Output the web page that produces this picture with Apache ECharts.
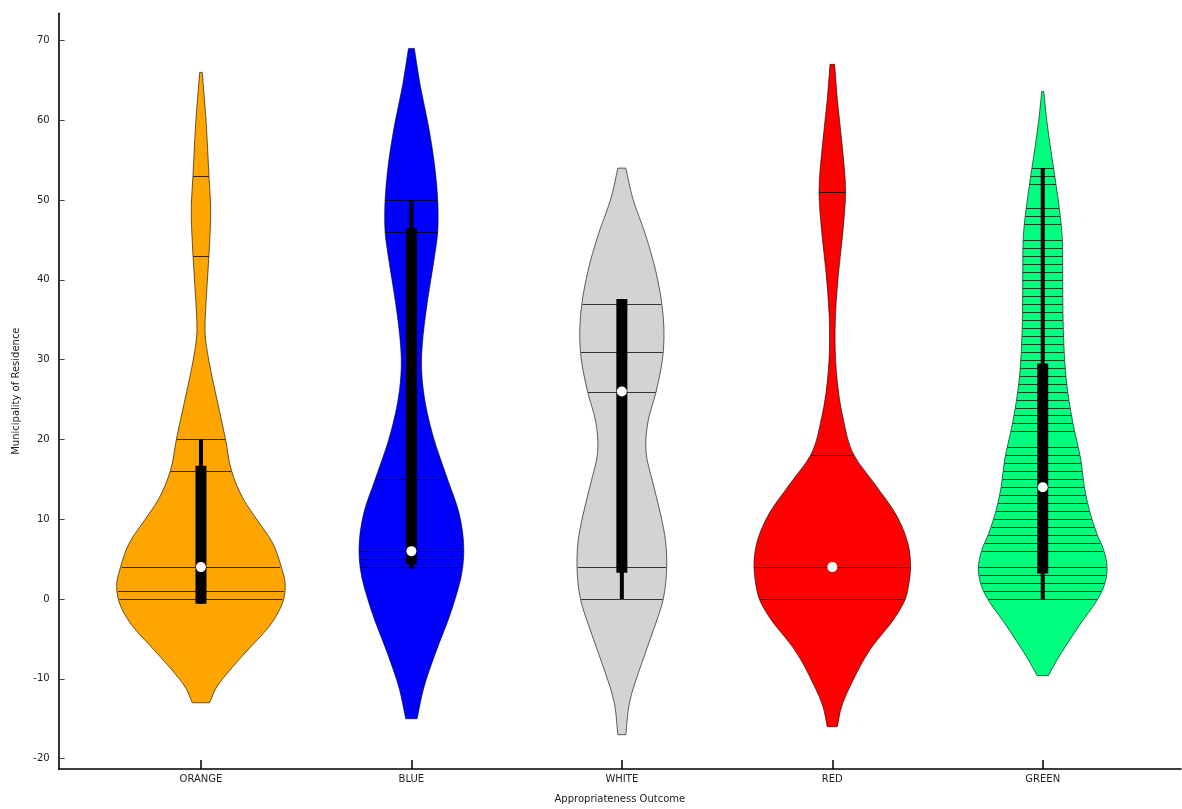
<!DOCTYPE html>
<html>
<head>
<meta charset="utf-8">
<script src="https://cdn.jsdelivr.net/npm/echarts@6/dist/echarts.min.js"></script>
<style>
html,body{margin:0;padding:0;background:#fff;}
#chart{width:1182px;height:809px;}
</style>
</head>
<body>
<div id="chart"></div>
<script>
// ---- data ----
const categories = ['ORANGE', 'BLUE', 'WHITE', 'RED', 'GREEN'];
const yTicks = [-20, -10, 0, 10, 20, 30, 40, 50, 60, 70];

// violin outlines: [value, half-width in category units]
const orangeShape = [[66,0.006],[59.7,0.025],[53,0.038],[49.2,0.046],[43.1,0.038],[36.1,0.022],[33.5,0.019],[29.8,0.038],[25.6,0.071],[20,0.117],[16.1,0.145],[12.5,0.202],[9.8,0.270],[7.2,0.337],[4,0.382],[2,0.400],[0.1,0.394],[-3.3,0.328],[-5.9,0.240],[-8.5,0.151],[-11.2,0.071],[-13,0.041]];
const blueShape = [[69,0.014],[64.5,0.041],[59,0.083],[53.5,0.114],[50,0.125],[48.1,0.127],[46,0.125],[42.6,0.108],[37.1,0.075],[31.6,0.051],[30,0.048],[26.1,0.057],[20.6,0.101],[15,0.172],[10.8,0.226],[6,0.249],[4,0.244],[-1.3,0.192],[-6.8,0.114],[-11.2,0.058],[-15,0.027]];
const whiteShape = [[54,0.019],[50.3,0.051],[45.6,0.113],[41,0.162],[37,0.190],[33.9,0.200],[31,0.197],[25.9,0.162],[22.2,0.124],[18.4,0.115],[14.7,0.146],[10.4,0.186],[7.2,0.208],[4,0.213],[-0.1,0.196],[-3.6,0.154],[-8.3,0.091],[-13,0.036],[-17,0.019]];
const redShape = [[67,0.011],[62.6,0.024],[57.1,0.046],[51,0.063],[46.2,0.051],[40.7,0.029],[33.6,0.013],[28.6,0.019],[22.7,0.051],[18,0.104],[14.4,0.202],[10.2,0.311],[6.9,0.360],[4,0.372],[1.9,0.364],[0,0.347],[-2.2,0.301],[-6.4,0.178],[-10.6,0.091],[-13.5,0.044],[-16,0.024]];
const greenShape = [[63.6,0.005],[60.2,0.018],[55.3,0.044],[50.5,0.071],[45.6,0.092],[40.7,0.095],[35.9,0.096],[31,0.102],[27.7,0.111],[22.1,0.143],[17.3,0.182],[14,0.198],[11.1,0.222],[8.2,0.257],[6.2,0.289],[3.7,0.306],[1.2,0.285],[-0.4,0.252],[-3,0.182],[-5.5,0.119],[-7.9,0.062],[-9.6,0.027]];

// individual observations drawn as sticks
const orangePoints = [0, 1, 4, 16, 20, 43, 53];
const bluePoints = [4, 5, 6, 15, 46, 50];
const whitePoints = [0, 4, 26, 31, 37];
const redPoints = [0, 4, 18, 51];
const greenPoints = [0,1,2,3,4,6,7,8,9,10,11,12,13,14,15,16,17,18,19,21,22,23,24,25,26,27,28,29,30,31,32,33,34,35,36,37,38,39,40,41,42,43,44,45,47,48,49,52,53,54];

// box (q1, q3), whisker (low, high), median
const boxes = [[-0.6, 16.7], [4.35, 46.5], [3.3, 37.6], null, [3.2, 29.5]];
const whiskers = [[-0.6, 20], [3.8, 50], [0, 37.6], null, [0, 54]];
const medians = [4, 6, 26, 4, 14];

// ---- styling ----
const fills = ['#FFA500', '#0000FF', '#D3D3D3', '#FF0000', '#00FF7F'];
const shapes = [orangeShape, blueShape, whiteShape, redShape, greenShape];
const points = [orangePoints, bluePoints, whitePoints, redPoints, greenPoints];
const FONT = 'DejaVu Sans';

// three-point derivative of half-width w.r.t. value (shape ordered by descending value)
function slopes(shape) {
  const n = shape.length, m = new Array(n);
  for (let i = 0; i < n; i++) {
    if (i === 0) m[i] = (shape[1][1] - shape[0][1]) / (shape[1][0] - shape[0][0]);
    else if (i === n - 1) m[i] = (shape[i][1] - shape[i - 1][1]) / (shape[i][0] - shape[i - 1][0]);
    else {
      const h0 = shape[i][0] - shape[i - 1][0], h1 = shape[i + 1][0] - shape[i][0];
      const d0 = (shape[i][1] - shape[i - 1][1]) / h0, d1 = (shape[i + 1][1] - shape[i][1]) / h1;
      m[i] = (d0 * h1 + d1 * h0) / (h0 + h1);
    }
  }
  return m;
}

function hermite(shape, m, v) {
  for (let i = 0; i < shape.length - 1; i++) {
    const a = shape[i], b = shape[i + 1];
    if (v <= a[0] && v >= b[0]) {
      const h = b[0] - a[0], t = (v - a[0]) / h;
      const t2 = t * t, t3 = t2 * t;
      return (2 * t3 - 3 * t2 + 1) * a[1] + (t3 - 2 * t2 + t) * h * m[i] + (-2 * t3 + 3 * t2) * b[1] + (t3 - t2) * h * m[i + 1];
    }
  }
  return 0;
}

// bezier segments along one side; sign = +1 right, -1 left
function sidePath(shape, m, idx, sign, api, reverse) {
  const segs = [];
  for (let i = 0; i < shape.length - 1; i++) {
    const a = shape[i], b = shape[i + 1], h = b[0] - a[0];
    const c1 = [a[0] + h / 3, a[1] + m[i] * h / 3];
    const c2 = [b[0] - h / 3, b[1] - m[i + 1] * h / 3];
    const P = p => api.coord([idx + sign * p[1], p[0]]);
    segs.push([P(a), P(c1), P(c2), P(b)]);
  }
  let d = '';
  const f = p => p[0].toFixed(2) + ',' + p[1].toFixed(2);
  if (!reverse) segs.forEach(s => { d += ' C' + f(s[1]) + ' ' + f(s[2]) + ' ' + f(s[3]); });
  else segs.slice().reverse().forEach(s => { d += ' C' + f(s[2]) + ' ' + f(s[1]) + ' ' + f(s[0]); });
  return d;
}

function renderItem(params, api) {
  const idx = params.dataIndex;
  const shape = shapes[idx];
  const m = slopes(shape);
  const top = shape[0], bot = shape[shape.length - 1];
  const f = p => p[0].toFixed(2) + ',' + p[1].toFixed(2);
  let d = 'M' + f(api.coord([idx - top[1], top[0]]));
  d += ' L' + f(api.coord([idx + top[1], top[0]]));
  d += sidePath(shape, m, idx, 1, api, false);
  d += ' L' + f(api.coord([idx - bot[1], bot[0]]));
  d += sidePath(shape, m, idx, -1, api, true);
  d += ' Z';
  const children = [{
    type: 'path',
    shape: { pathData: d },
    style: { fill: fills[idx], stroke: 'rgba(0,0,0,0.6)', lineWidth: 1 }
  }];
  points[idx].forEach(v => {
    const hw = hermite(shape, m, v) * 0.985;
    const a = api.coord([idx - hw, v]), b = api.coord([idx + hw, v]);
    const y = Math.round(a[1]) + 0.5;
    children.push({
      type: 'line',
      shape: { x1: a[0], y1: y, x2: b[0], y2: y },
      style: { stroke: 'rgba(0,0,0,0.75)', lineWidth: 1 }
    });
  });
  const c = api.coord([idx, 0])[0];
  if (whiskers[idx]) {
    const w0 = api.coord([idx, whiskers[idx][0]])[1], w1 = api.coord([idx, whiskers[idx][1]])[1];
    children.push({ type: 'rect', shape: { x: c - 2, y: w1, width: 4, height: w0 - w1 }, style: { fill: '#000' } });
  }
  if (boxes[idx]) {
    const b0 = api.coord([idx, boxes[idx][0]])[1], b1 = api.coord([idx, boxes[idx][1]])[1];
    children.push({ type: 'rect', shape: { x: c - 5.5, y: b1, width: 11, height: b0 - b1 }, style: { fill: '#000' } });
  }
  const md = api.coord([idx, medians[idx]]);
  children.push({ type: 'circle', shape: { cx: md[0], cy: md[1], r: 5 }, style: { fill: '#fff' } });
  return { type: 'group', children: children };
}

const chart = echarts.init(document.getElementById('chart'), null, { renderer: 'canvas' });
chart.setOption({
  animation: false,
  backgroundColor: '#fff',
  grid: { left: 58.7, right: 1, top: 13.3, bottom: 36.5, containLabel: false },
  xAxis: {
    type: 'value',
    min: -0.676,
    max: 4.657,
    name: 'Appropriateness Outcome',
    nameLocation: 'middle',
    nameGap: 25,
    nameTextStyle: { fontFamily: FONT, fontSize: 10, color: '#222' },
    axisLine: { show: true, onZero: false, lineStyle: { color: '#000', width: 1.6 } },
    axisTick: { show: true, inside: true, length: 9, customValues: [0, 1, 2, 3, 4], lineStyle: { color: '#000', width: 1.5 } },
    axisLabel: { customValues: [0, 1, 2, 3, 4], formatter: v => categories[Math.round(v)], fontFamily: FONT, fontSize: 10, color: '#222', margin: 5 },
    splitLine: { show: false }
  },
  yAxis: {
    type: 'value',
    min: -21.3,
    max: 73.4,
    name: 'Municipality of Residence',
    nameLocation: 'middle',
    nameGap: 37,
    nameRotate: 90,
    nameTextStyle: { fontFamily: FONT, fontSize: 10, color: '#222' },
    axisLine: { show: true, onZero: false, lineStyle: { color: '#000', width: 1.6 } },
    axisTick: { show: true, inside: true, length: 6, customValues: yTicks, lineStyle: { color: '#444', width: 1 } },
    axisLabel: { customValues: yTicks, fontFamily: FONT, fontSize: 10, color: '#222', margin: 9 },
    splitLine: { show: false }
  },
  series: [{
    type: 'custom',
    renderItem: renderItem,
    data: categories.map((c, i) => [i, medians[i]]),
    clip: false,
    silent: true
  }]
});
</script>
</body>
</html>
